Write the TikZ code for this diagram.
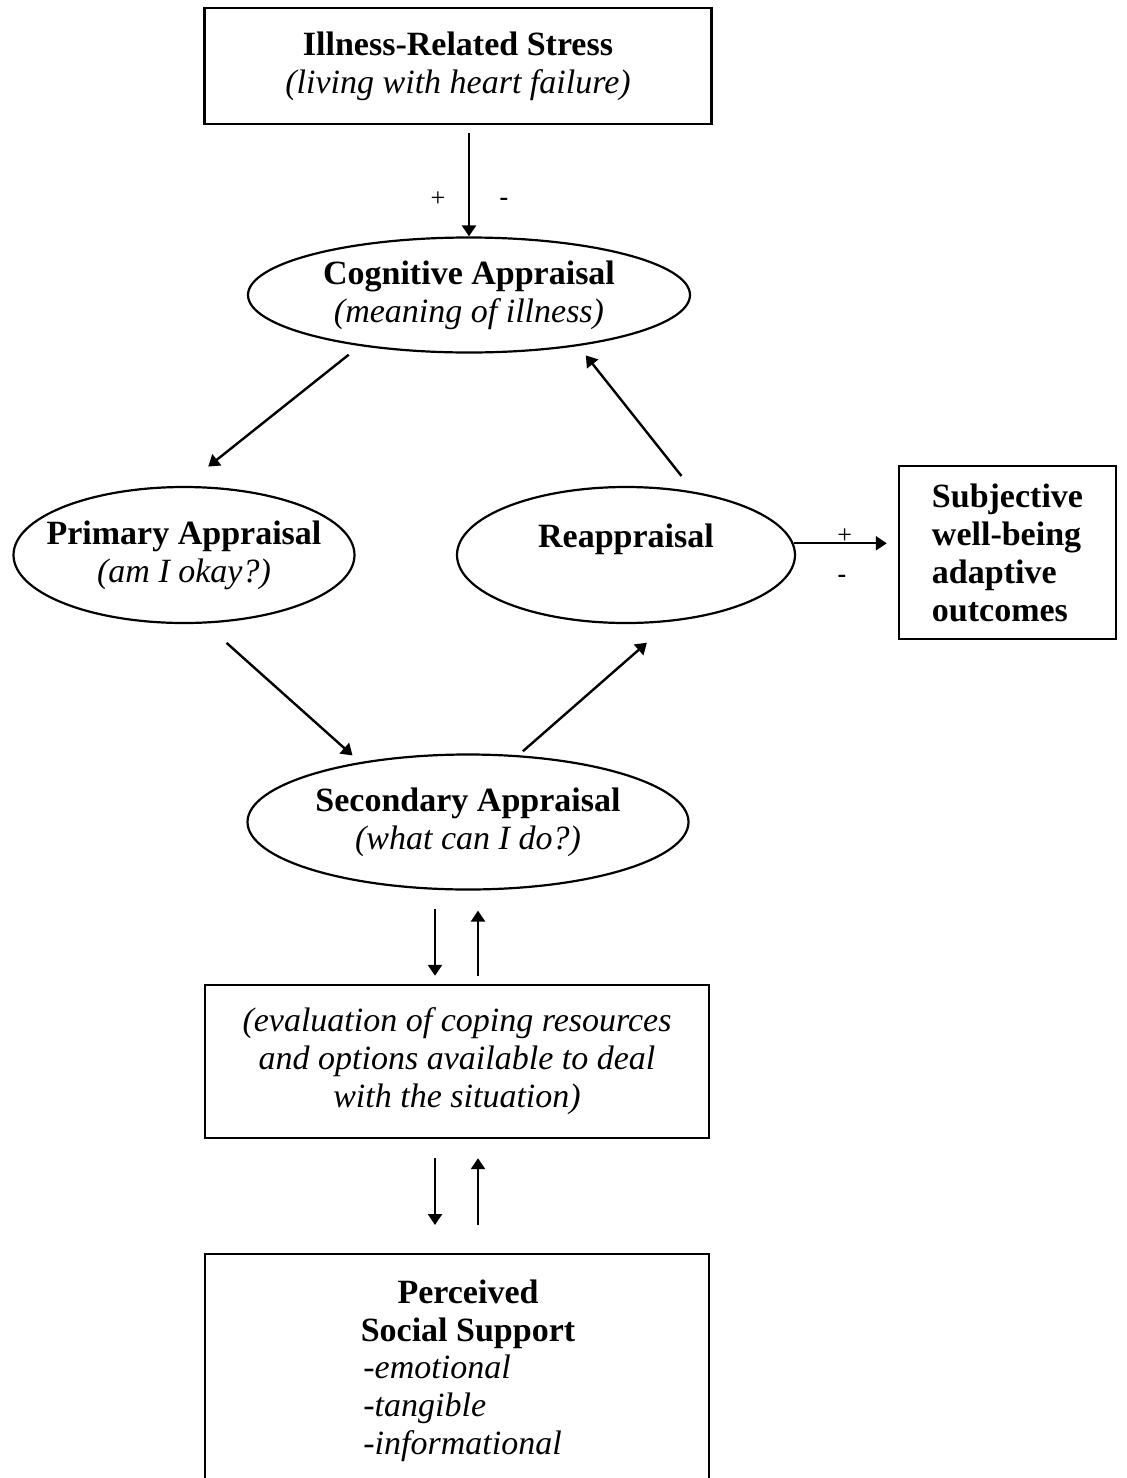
\documentclass[tikz,border=0pt]{standalone}
\usepackage{fontspec}
\setmainfont{Liberation Serif}
\usetikzlibrary{shapes.geometric, arrows.meta, positioning}

\tikzset{
  box/.style={draw, line width=1.2pt, rectangle, align=center, inner sep=0pt,
    font=\fontsize{17}{19}\selectfont},
  oval/.style={draw, line width=1.1pt, ellipse, align=center, inner sep=-10pt,
    font=\fontsize{17}{19}\selectfont},
  words/.style={align=center, inner sep=0pt, font=\fontsize{17}{19}\selectfont},
  link/.style={line width=1.2pt, -{Triangle[length=5.5pt,width=7pt]}},
  sign/.style={inner sep=0pt, font=\fontsize{13}{15}\selectfont},
}

\begin{document}
\begin{tikzpicture}[x=0.5pt, y=-0.5pt]
    % 1. Page frame, measured in pixels of the scan
    \useasboundingbox (0,0) rectangle (1126,1478);

    % 2. Stress box and the appraisal ovals
    \node[box, minimum width=253.5pt, minimum height=58pt] (stress) at (458,66)
        {\textbf{Illness-Related Stress}\\\textit{(living with heart failure)}};
    \node[oval, minimum width=221pt, minimum height=57.5pt] (cognitive) at (469,295)
        {\textbf{Cognitive Appraisal}\\\textit{(meaning of illness)}};
    \node[oval, minimum width=170.5pt, minimum height=68pt] (primary) at (184,555)
        {\textbf{Primary Appraisal}\\\textit{(am I okay?)}};
    \node[oval, minimum width=169pt, minimum height=68pt] (reappraisal) at (626,555)
        {\textbf{Reappraisal}\\\mbox{}};
    \node[box, align=left, minimum width=108.5pt, minimum height=86.5pt] (wellbeing) at (1007.5,552.5)
        {\textbf{Subjective}\\\textbf{well-being}\\\textbf{adaptive}\\\textbf{outcomes}};
    \node[oval, minimum width=220.5pt, minimum height=67.5pt] (secondary) at (468,822)
        {\textbf{Secondary Appraisal}\\\textit{(what can I do?)}};

    % 3. Coping box and social support (runs off the page at the bottom)
    \node[box, minimum width=252pt, minimum height=76.5pt] (coping) at (457,1061.5)
        {\textit{(evaluation of coping resources}\\\textit{and options available to deal}\\\textit{with the situation)}};
    \node[box, anchor=north, minimum width=252pt, minimum height=160pt] (support) at (457,1253) {};
    \node[words, anchor=north] (supporttitle) at (468,1279)
        {\textbf{Perceived}\\\textbf{Social Support}};
    \node[words, align=left, anchor=north west] (supportlist) at (363,1354)
        {\textit{-emotional}\\\textit{-tangible}\\\textit{-informational}};

    % 4. Arrows
    \draw[link] ([yshift=-4pt]stress.south -| cognitive.north) -- (cognitive.north)
        node[sign, pos=0.64, xshift=-15.5pt] {+}
        node[sign, pos=0.64, xshift=17.5pt, yshift=-1.5pt] {\textbf{-}};
    \draw[link, shorten <=7pt, shorten >=15.5pt] (cognitive.205) -- (primary.north);
    \draw[link, shorten <=10pt, shorten >=6pt] (reappraisal.43) -- (cognitive.335);
    \draw[link, shorten <=14.5pt, shorten >=5pt] (primary.287) -- (secondary.151);
    \draw[link, shorten <=3pt, shorten >=16pt] (secondary.53) -- (reappraisal.304);
    \draw[link, shorten >=5.5pt] (reappraisal.4) -- (reappraisal.4 -| wellbeing.west)
        node[sign, pos=0.49, yshift=3.5pt] {+}
        node[sign, pos=0.465, yshift=-18pt] {\textbf{-}};

    % down and up between secondary appraisal and coping box
    \draw[link] ([xshift=-16.5pt, yshift=-9pt]secondary.south) -- ([xshift=-11pt, yshift=4pt]coping.north);
    \draw[link] ([xshift=10.5pt, yshift=4pt]coping.north) -- ([xshift=5pt, yshift=-10pt]secondary.south);

    % down and up between coping box and social support
    \draw[link] ([xshift=-11pt, yshift=-9.5pt]coping.south) -- ([xshift=-11pt, yshift=14pt]support.north);
    \draw[link] ([xshift=10.5pt, yshift=14pt]support.north) -- ([xshift=10.5pt, yshift=-9.5pt]coping.south);

\end{tikzpicture}
\end{document}
